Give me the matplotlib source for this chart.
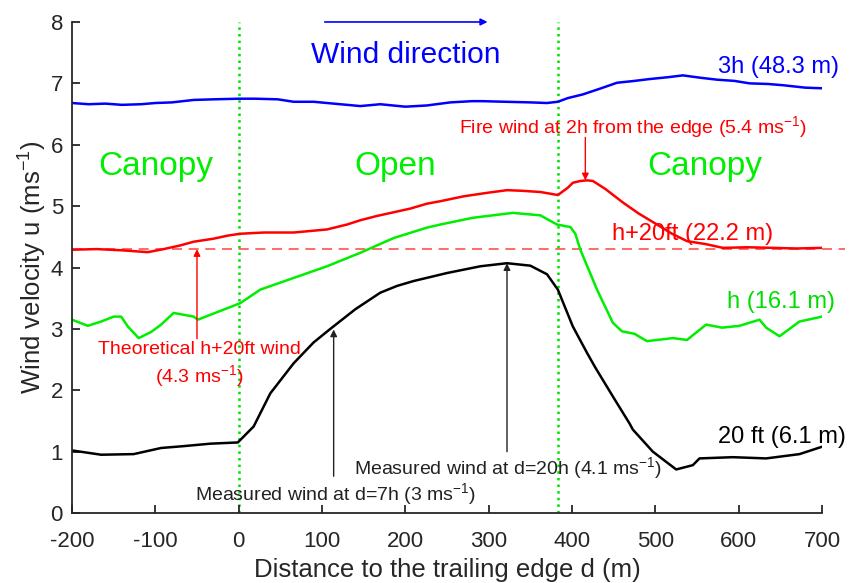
import matplotlib
matplotlib.use("Agg")
import matplotlib.pyplot as plt

plt.rcParams['font.family'] = ['Liberation Sans', 'DejaVu Sans']
plt.rcParams['mathtext.fontset'] = 'custom'
plt.rcParams['mathtext.rm'] = 'Liberation Sans'
plt.rcParams['mathtext.it'] = 'Liberation Sans:italic'
plt.rcParams['axes.unicode_minus'] = False

# 3h (48.3 m)
x_3h = [-200, -180, -160, -140, -117, -100, -80, -54, -30, 0, 20, 47, 66, 90, 106, 130, 146, 170,
        200, 226, 254, 280, 293, 320, 350, 370, 383, 395, 413, 435, 454, 475, 493, 515, 533, 555,
        574, 595, 613, 635, 653, 680, 700]
y_3h = [6.68, 6.66, 6.67, 6.65, 6.66, 6.68, 6.69, 6.73, 6.74, 6.75, 6.75, 6.74, 6.70, 6.70, 6.68,
        6.65, 6.63, 6.66, 6.62, 6.64, 6.69, 6.71, 6.71, 6.70, 6.69, 6.68, 6.70, 6.76, 6.82, 6.92,
        7.01, 7.04, 7.07, 7.10, 7.13, 7.09, 7.06, 7.04, 7.00, 6.99, 6.97, 6.93, 6.92]

# h+20ft (22.2 m)
x_h20 = [-200, -170, -140, -109, -90, -70, -54, -30, -13, 2, 30, 66, 90, 106, 130, 146, 166, 186,
         206, 226, 242, 270, 300, 322, 340, 362, 375, 383, 395, 401, 410, 418, 425, 440, 461, 480,
         502, 520, 538, 561, 581, 610, 641, 670, 700]
y_h20 = [4.29, 4.30, 4.28, 4.25, 4.30, 4.36, 4.42, 4.47, 4.52, 4.55, 4.57, 4.57, 4.60, 4.62, 4.70,
         4.77, 4.84, 4.90, 4.96, 5.04, 5.08, 5.16, 5.22, 5.26, 5.25, 5.23, 5.20, 5.18, 5.30, 5.38,
         5.41, 5.42, 5.41, 5.28, 5.06, 4.88, 4.70, 4.55, 4.43, 4.38, 4.32, 4.33, 4.32, 4.31, 4.32]

# h (16.1 m)
x_h = [-200, -181, -165, -150, -141, -133, -120, -105, -93, -78, -66, -54, -49, -34, -13, 2, 26,
       66, 106, 146, 186, 226, 242, 281, 329, 362, 382, 398, 404, 410, 430, 449, 460, 475, 490,
       521, 538, 561, 580, 601, 625, 633, 649, 673, 700]
y_h = [3.15, 3.05, 3.12, 3.20, 3.20, 3.04, 2.85, 2.95, 3.07, 3.26, 3.23, 3.20, 3.15, 3.23, 3.34,
       3.42, 3.64, 3.83, 4.02, 4.24, 4.48, 4.65, 4.70, 4.81, 4.89, 4.85, 4.70, 4.66, 4.55, 4.29,
       3.64, 3.10, 2.96, 2.92, 2.80, 2.85, 2.82, 3.07, 3.02, 3.05, 3.15, 3.02, 2.88, 3.12, 3.20]

# 20 ft (6.1 m)
x_20 = [-200, -165, -126, -93, -66, -34, -1, 18, 38, 66, 90, 110, 140, 170, 190, 210, 250, 290,
        322, 350, 370, 383, 401, 418, 428, 449, 469, 473, 497, 525, 545, 553, 593, 633, 673, 700]
y_20 = [1.02, 0.95, 0.96, 1.06, 1.09, 1.13, 1.15, 1.41, 1.95, 2.44, 2.78, 3.00, 3.32, 3.59, 3.70,
        3.78, 3.91, 4.02, 4.07, 4.03, 3.89, 3.64, 3.04, 2.61, 2.37, 1.90, 1.46, 1.36, 1.00, 0.71,
        0.78, 0.89, 0.91, 0.89, 0.96, 1.08]

edges = [0, 383]
theoretical = 4.3

fig = plt.figure(figsize=(8.63, 5.83), dpi=100)
ax = fig.add_axes([0.0834, 0.12, 0.8691, 0.8423])

for e in edges:
    ax.plot([e, e], [0, 8], color='#00e000', linestyle=':', linewidth=1.8, zorder=1)

ax.plot([-200, 728], [theoretical, theoretical], color='#ff5050', linestyle=(0, (6, 4)),
        linewidth=1.2, clip_on=False, zorder=1)

ax.plot(x_3h, y_3h, color='#0000ff', linewidth=1.8)
ax.plot(x_h20, y_h20, color='#ff0000', linewidth=1.8)
ax.plot(x_h, y_h, color='#00ee00', linewidth=1.8)
ax.plot(x_20, y_20, color='black', linewidth=1.8)

# series labels
ax.text(575, 7.27, '3h (48.3 m)', color='#0000ff', fontsize=17, va='center', clip_on=False)
ax.text(448, 4.54, 'h+20ft (22.2 m)', color='#ff0000', fontsize=17, va='center', clip_on=False)
ax.text(586, 3.44, 'h (16.1 m)', color='#00dd00', fontsize=17, va='center', clip_on=False)
ax.text(575, 1.24, '20 ft (6.1 m)', color='black', fontsize=17, va='center', clip_on=False)

# regions
ax.text(-99, 5.64, 'Canopy', color='#00ee00', fontsize=24, ha='center', va='center')
ax.text(188, 5.64, 'Open', color='#00ee00', fontsize=24, ha='center', va='center')
ax.text(559, 5.64, 'Canopy', color='#00ee00', fontsize=24, ha='center', va='center')

ax.text(200, 7.47, 'Wind direction', color='#0000ff', fontsize=21.5, ha='center', va='center')
ax.annotate('', xy=(302, 8.0), xytext=(100, 8.0), annotation_clip=False,
            arrowprops=dict(arrowstyle='-|>', color='#0000ff', lw=1.2, mutation_scale=10))

# annotations
ax.text(473, 6.29, 'Fire wind at 2h from the edge (5.4 ms$^{-1}$)', color='#ff0000',
        fontsize=14, ha='center', va='center')
ax.annotate('', xy=(416, 5.42), xytext=(416, 6.12),
            arrowprops=dict(arrowstyle='-|>', color='#ff0000', lw=1.0, mutation_scale=10,
                            shrinkA=0, shrinkB=0))

ax.text(-47, 2.41, 'Theoretical h+20ft wind\n(4.3 ms$^{-1}$)', color='#ff0000', fontsize=14,
        ha='center', va='center', linespacing=1.25)
ax.annotate('', xy=(-50, theoretical), xytext=(-50, 2.84),
            arrowprops=dict(arrowstyle='-|>', color='#ff0000', lw=1.0, mutation_scale=10,
                            shrinkA=0, shrinkB=0))

ax.text(116, 0.31, 'Measured wind at d=7h (3 ms$^{-1}$)', color='#222222', fontsize=14,
        ha='center', va='center')
ax.annotate('', xy=(114, 2.99), xytext=(114, 0.6),
            arrowprops=dict(arrowstyle='-|>', color='#222222', lw=1.0, mutation_scale=10,
                            shrinkA=0, shrinkB=0))

ax.text(323, 0.73, 'Measured wind at d=20h (4.1 ms$^{-1}$)', color='#222222', fontsize=14,
        ha='center', va='center')
ax.annotate('', xy=(322, 4.07), xytext=(322, 1.0),
            arrowprops=dict(arrowstyle='-|>', color='#222222', lw=1.0, mutation_scale=10,
                            shrinkA=0, shrinkB=0))

ax.set_xlim(-200, 700)
ax.set_ylim(0, 8)
ax.set_xticks(range(-200, 701, 100))
ax.set_yticks(range(0, 9))
ax.spines['top'].set_visible(False)
ax.spines['right'].set_visible(False)
for s in ['left', 'bottom']:
    ax.spines[s].set_color('#262626')
    ax.spines[s].set_linewidth(1.3)
ax.tick_params(direction='in', length=6, width=1.3, color='#262626', labelsize=16,
               labelcolor='#262626')
ax.tick_params(axis='x', pad=13)
ax.tick_params(axis='y', pad=6.5)
ax.set_xlabel('Distance to the trailing edge d (m)', fontsize=18.5, color='#262626', labelpad=4)
ax.set_ylabel('Wind velocity u (ms$^{-1}$)', fontsize=18.5, color='#262626', labelpad=1)

fig.savefig('out.png', dpi=100)
